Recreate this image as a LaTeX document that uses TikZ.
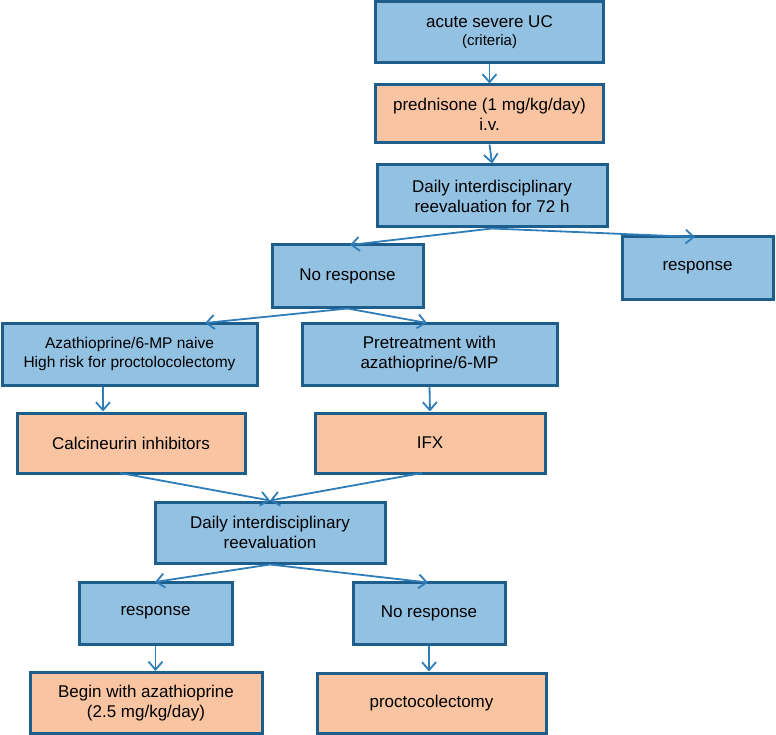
\documentclass[tikz,border=0pt]{standalone}
\usepackage{fontspec}
\setmainfont{Liberation Sans}
\usetikzlibrary{arrows.meta}
\definecolor{bfill}{HTML}{93C1E2}
\definecolor{ofill}{HTML}{F8C4A2}
\definecolor{bline}{HTML}{1E5E8C}
\definecolor{aline}{HTML}{2E7DB8}
\tikzset{
  box/.style={draw=bline, line width=3pt, align=center, inner sep=2pt,
    font=\fontsize{17}{20}\selectfont},
  bbox/.style={box, fill=bfill},
  obox/.style={box, fill=ofill},
  arr/.style={draw=aline, line width=1.8pt, -{Straight Barb[length=8pt,width=14pt,line width=1.8pt]}},
}
\begin{document}
\begin{tikzpicture}[x=1pt,y=-1pt]
\useasboundingbox (0,0) rectangle (776,735);
\node[bbox, minimum width=228, minimum height=61] (b1) at (489.5,32.5) {acute severe UC\\[-2pt]{\fontsize{15}{18}\selectfont (criteria)}};
\node[obox, minimum width=228, minimum height=58] (b2) at (489.5,114) {prednisone (1 mg/kg/day)\\i.v.};
\node[bbox, minimum width=230, minimum height=62] (b3) at (492,196) {Daily interdisciplinary\\reevaluation for 72 h};
\node[bbox, minimum width=151, minimum height=62] (nr1) at (347.5,276) {No response};
\node[bbox, minimum width=151, minimum height=62] (r1) at (697.5,268) {response};
\node[bbox, minimum width=255, minimum height=62, font=\fontsize{15.5}{19}\selectfont] (az) at (129.5,354) {Azathioprine/6-MP naive\\High risk for proctolocolectomy};
\node[bbox, minimum width=255, minimum height=62] (pre) at (429.5,354) {Pretreatment with\\azathioprine/6-MP};
\node[obox, minimum width=228, minimum height=60] (calc) at (131,443) {Calcineurin inhibitors};
\node[obox, minimum width=230, minimum height=60] (ifx) at (430,443) {IFX};
\node[bbox, minimum width=230, minimum height=61] (d2) at (270,532.5) {Daily interdisciplinary\\reevaluation};
\node[bbox, minimum width=153, minimum height=62] (r2) at (155.5,613) {response};
\node[bbox, minimum width=152, minimum height=62] (nr2) at (429,613.5) {No response};
\node[obox, minimum width=232, minimum height=61] (beg) at (146,703) {Begin with azathioprine\\(2.5 mg/kg/day)};
\node[obox, minimum width=229, minimum height=60] (proc) at (431.5,703) {proctocolectomy};

\draw[arr] (b1.south) -- (b2.north);
\draw[arr] (b2.south) -- (b3.north);
\draw[arr] (b3.south) -- (350,245);
\draw[arr] (b3.south) -- (695,237);
\draw[arr] (nr1.south) -- (205,323);
\draw[arr] (nr1.south) -- (427,323);
\draw[arr] (az.south -| 103,0) -- (calc.north -| 103,0);
\draw[arr] (pre.south) -- (ifx.north);
\draw[arr] (120,473) -- (d2.north);
\draw[arr] (422,473) -- (d2.north);
\draw[arr] (d2.south) -- (155,582);
\draw[arr] (d2.south) -- (428,582.5);
\draw[arr] (r2.south) -- (r2.south |- beg.north);
\draw[arr] (nr2.south) -- (nr2.south |- proc.north);
\end{tikzpicture}
\end{document}
